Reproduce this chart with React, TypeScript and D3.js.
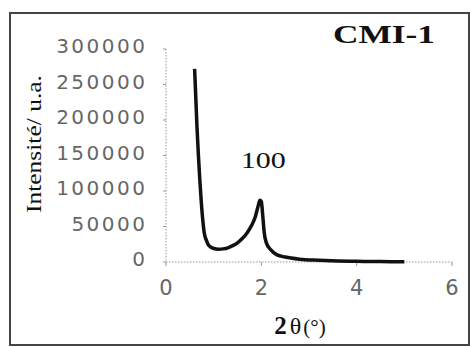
import React from 'react';
import * as d3 from 'd3';

// diffractogram: 2θ (°) vs intensity (u.a.)
const twoTheta = [0.6, 0.62, 0.65, 0.68, 0.71, 0.74, 0.77, 0.8, 0.85, 0.9, 1.0, 1.1, 1.2, 1.3, 1.4, 1.5, 1.6, 1.7, 1.8, 1.87, 1.93, 1.97, 2.0, 2.03, 2.06, 2.1, 2.2, 2.33, 2.5, 2.8, 3.2, 3.6, 4.0, 4.5, 5.0];
const intensity = [272000, 240000, 190000, 150000, 115000, 85000, 60000, 42000, 30000, 23000, 19000, 18000, 18500, 20000, 23000, 27000, 33000, 41000, 52000, 63000, 78000, 87000, 85000, 65000, 42000, 28000, 17000, 10000, 7000, 4000, 2500, 1500, 1000, 600, 400];
const xTicks = [0, 2, 4, 6];
const yTicks = [0, 50000, 100000, 150000, 200000, 250000, 300000];
const title = 'CMI-1';
const peakLabel = { x: 2.0, y: 87000, text: '100' };

export default function App() {
  const width = 470;
  const height = 347;

  const x = d3.scaleLinear().domain([0, 6]).range([166, 452]);
  const y = d3.scaleLinear().domain([0, 300000]).range([262, 49]);

  const points = twoTheta.map((t, i) => ({ t, v: intensity[i] }));
  const line = d3.line<{ t: number; v: number }>()
    .x(d => x(d.t))
    .y(d => y(d.v))
    .curve(d3.curveMonotoneX);

  const serif = '"Liberation Serif", "Times New Roman", serif';
  const sans = '"DejaVu Sans", Verdana, sans-serif';

  return (
    <svg width={width} height={height} style={{ position: 'absolute', left: 0, top: 0, background: '#fff' }}>
      {/* frame */}
      <rect x={10} y={13} width={459} height={332} fill="none" stroke="#444" strokeWidth={2} />

      {/* axes, dotted */}
      <line x1={x(0)} x2={x(0)} y1={y(300000)} y2={y(0)} stroke="#999" strokeDasharray="1.5,1.5" />
      <line x1={x(0)} x2={x(6)} y1={y(0)} y2={y(0)} stroke="#999" strokeDasharray="1.5,1.5" />
      {yTicks.map(t => (
        <line key={'yt' + t} x1={x(0) - 3} x2={x(0)} y1={y(t)} y2={y(t)} stroke="#999" />
      ))}
      {xTicks.map(t => (
        <line key={'xt' + t} x1={x(t)} x2={x(t)} y1={y(0)} y2={y(0) + 4} stroke="#999" />
      ))}

      {/* tick labels */}
      {yTicks.map(t => (
        <text key={'yl' + t} x={147.5} y={y(t) - 3} textAnchor="end" dominantBaseline="central"
          fontFamily={sans} fontSize={20} letterSpacing={2.5} fill="#666">
          {d3.format('d')(t)}
        </text>
      ))}
      {xTicks.map(t => (
        <text key={'xl' + t} x={x(t)} y={y(0) + 26} textAnchor="middle" dominantBaseline="central"
          fontFamily={sans} fontSize={21} fill="#666">
          {t}
        </text>
      ))}

      {/* data */}
      <path d={line(points) ?? ''} fill="none" stroke="#111" strokeWidth={3.5} strokeLinejoin="round" />

      {/* annotations */}
      <text x={x(peakLabel.x) + 2} y={y(peakLabel.y) - 32} textAnchor="middle" fontFamily={serif}
        fontSize={23} textLength={45} lengthAdjust="spacingAndGlyphs" fill="#111">
        {peakLabel.text}
      </text>
      <text x={333} y={43} fontFamily={serif} fontWeight="bold" fontSize={26}
        textLength={102} lengthAdjust="spacingAndGlyphs" fill="#111">
        {title}
      </text>

      {/* axis titles */}
      <text x={300} y={334} textAnchor="middle" fontFamily={serif} fill="#111">
        <tspan fontWeight="bold" fontSize={25}>2</tspan>
        <tspan fontSize={24} dx={3}>θ</tspan>
        <tspan fontSize={21} dx={2}>(°)</tspan>
      </text>
      <text transform="translate(41,144) rotate(-90)" textAnchor="middle" fontFamily={serif}
        fontSize={22} textLength={138} lengthAdjust="spacingAndGlyphs" fill="#111">
        Intensité/ u.a.
      </text>
    </svg>
  );
}
